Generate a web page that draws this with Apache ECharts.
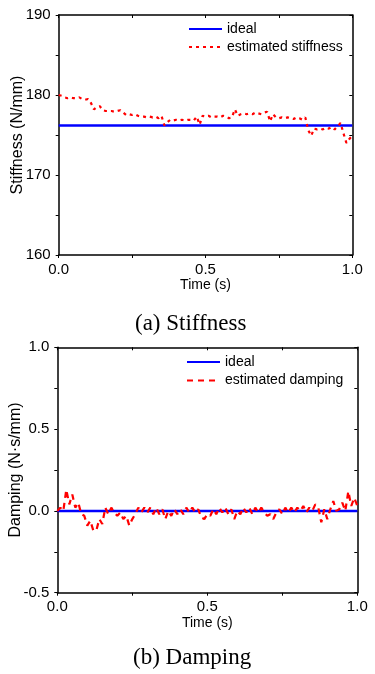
<!DOCTYPE html>
<html>
<head>
<meta charset="utf-8">
<script src="https://cdn.jsdelivr.net/npm/echarts@6/dist/echarts.min.js"></script>
<style>
  html, body { margin: 0; padding: 0; background: #fff; }
  #chart { width: 375px; height: 674px; }
</style>
</head>
<body>
<div id="chart"></div>
<script>
// sample times (s), shared by both panels
const time = [
  0.00, 0.01, 0.02, 0.03, 0.04, 0.05, 0.06, 0.07, 0.08, 0.09,
  0.10, 0.11, 0.12, 0.13, 0.14, 0.15, 0.16, 0.17, 0.18, 0.19,
  0.20, 0.21, 0.22, 0.23, 0.24, 0.25, 0.26, 0.27, 0.28, 0.29,
  0.30, 0.31, 0.32, 0.33, 0.34, 0.35, 0.36, 0.37, 0.38, 0.39,
  0.40, 0.41, 0.42, 0.43, 0.44, 0.45, 0.46, 0.47, 0.48, 0.49,
  0.50, 0.51, 0.52, 0.53, 0.54, 0.55, 0.56, 0.57, 0.58, 0.59,
  0.60, 0.61, 0.62, 0.63, 0.64, 0.65, 0.66, 0.67, 0.68, 0.69,
  0.70, 0.71, 0.72, 0.73, 0.74, 0.75, 0.76, 0.77, 0.78, 0.79,
  0.80, 0.81, 0.82, 0.83, 0.84, 0.85, 0.86, 0.87, 0.88, 0.89,
  0.90, 0.91, 0.92, 0.93, 0.94, 0.95, 0.96, 0.97, 0.98, 0.99,
  1.00
];

// (a) stiffness, N/mm
const idealStiffness = 176.2;
const estStiffness = [
  180.0, 179.9, 179.7, 179.6, 179.7, 179.6, 179.6, 179.7, 179.5, 179.4,
  179.5, 179.0, 178.2, 178.5, 178.6, 178.1, 178.0, 178.0, 178.0, 177.9,
  178.0, 178.1, 177.8, 177.5, 177.6, 177.5, 177.6, 177.4, 177.3, 177.3,
  177.2, 177.3, 177.2, 177.3, 177.1, 177.4, 176.2, 176.6, 176.9, 176.8,
  176.9, 176.8, 176.9, 176.8, 176.9, 176.9, 176.8, 177.3, 176.3, 177.4,
  177.3, 177.4, 177.2, 177.3, 177.3, 177.2, 177.4, 177.3, 177.1, 177.2,
  178.2, 177.4, 177.6, 177.7, 177.6, 177.7, 177.6, 177.8, 177.7, 177.6,
  177.8, 177.9, 176.7, 177.6, 177.2, 177.1, 177.2, 177.1, 177.2, 177.1,
  177.0, 177.2, 177.1, 176.9, 177.2, 175.6, 174.9, 175.8, 175.7, 175.8,
  175.7, 175.9, 175.8, 176.0, 175.7, 176.1, 176.5, 175.2, 174.0, 174.5,
  174.9
];

// (b) damping, N·s/mm
const idealDamping = 0;
const estDamping = [
  0.00, 0.02, 0.00, 0.13, 0.04, 0.10, 0.02, 0.05, -0.02, -0.03,
  -0.09, -0.06, -0.12, -0.12, -0.05, -0.08, 0.02, -0.02, 0.02, -0.01,
  -0.03, -0.01, -0.05, -0.03, -0.09, -0.05, -0.02, 0.02, -0.01, 0.02,
  -0.01, 0.02, -0.02, 0.02, -0.02, 0.01, -0.05, 0.00, -0.03, 0.01,
  -0.02, 0.01, -0.02, 0.02, -0.01, 0.02, -0.01, 0.01, -0.04, -0.05,
  -0.02, -0.03, 0.01, -0.02, 0.02, -0.01, 0.02, -0.02, 0.01, -0.05,
  0.00, -0.02, 0.02, -0.01, 0.02, -0.02, 0.02, -0.01, 0.02, -0.01,
  -0.03, -0.02, -0.05, -0.01, 0.01, -0.02, 0.02, -0.01, 0.02, -0.01,
  0.02, 0.00, 0.03, -0.01, 0.02, 0.00, 0.04, 0.02, -0.07, 0.01,
  -0.05, 0.01, 0.06, 0.00, 0.01, 0.05, 0.00, 0.12, 0.03, 0.08,
  0.03
];

const stiffTicks = { min: 160, max: 190, interval: 10 };
const dampTicks = { min: -0.5, max: 1.0, interval: 0.5 };
const timeTicks = { min: 0, max: 1, interval: 0.5 };

const SANS = 'Liberation Sans, Arial, sans-serif';
const SERIF = 'Liberation Serif, Times New Roman, serif';
const BLUE = '#0000ff';
const RED = '#ff0000';

const chart = echarts.init(document.getElementById('chart'), null, { renderer: 'canvas' });

const axisLine = { show: true, onZero: false, lineStyle: { color: '#000', width: 1.5 } };
const tickStyle = { color: '#000', width: 1 };

function mainX(gridIndex, name, nameGap) {
  return {
    type: 'value', gridIndex, ...timeTicks,
    name, nameLocation: 'middle', nameGap, nameMoveOverlap: false,
    nameTextStyle: { fontFamily: SANS, fontSize: 14, color: '#000' },
    axisLine,
    axisTick: { show: true, inside: false, length: 3, lineStyle: tickStyle },
    minorTick: { show: true, splitNumber: 2, length: 3, lineStyle: tickStyle },
    splitLine: { show: false },
    axisLabel: { fontFamily: SANS, fontSize: 15, color: '#000', margin: 7,
      formatter: (v) => v.toFixed(1) }
  };
}
function mirrorX(gridIndex) {
  return {
    type: 'value', gridIndex, position: 'top', ...timeTicks,
    axisLine,
    axisTick: { show: true, inside: true, length: 3, lineStyle: tickStyle },
    minorTick: { show: true, splitNumber: 2, length: 3, lineStyle: tickStyle },
    splitLine: { show: false },
    axisLabel: { show: false }
  };
}
function mainY(gridIndex, ticks, name, nameGap, digits) {
  return {
    type: 'value', gridIndex, ...ticks,
    name, nameLocation: 'middle', nameGap, nameMoveOverlap: false,
    nameTextStyle: { fontFamily: SANS, fontSize: 16, color: '#000' },
    axisLine,
    axisTick: { show: true, inside: false, length: 3, lineStyle: tickStyle },
    minorTick: { show: true, splitNumber: 2, length: 3, lineStyle: tickStyle },
    splitLine: { show: false },
    axisLabel: { fontFamily: SANS, fontSize: 15, color: '#000', margin: 8,
      formatter: (v) => v.toFixed(digits) }
  };
}
function mirrorY(gridIndex, ticks) {
  return {
    type: 'value', gridIndex, position: 'right', ...ticks,
    axisLine,
    axisTick: { show: true, inside: true, length: 3, lineStyle: tickStyle },
    minorTick: { show: true, splitNumber: 2, length: 3, lineStyle: tickStyle },
    splitLine: { show: false },
    axisLabel: { show: false }
  };
}

const legendBase = {
  orient: 'vertical', itemWidth: 33, itemHeight: 14, itemGap: 4,
  itemStyle: { opacity: 0 },
  textStyle: { fontFamily: SANS, fontSize: 14, color: '#000' },
  padding: 0, selectedMode: false
};

chart.setOption({
  animation: false,
  backgroundColor: '#fff',
  grid: [
    { left: 58.7, right: 22.7, top: 15, height: 240, outerBoundsMode: 'none' },
    { left: 57.3, right: 17.7, top: 347.3, height: 245.4, outerBoundsMode: 'none' }
  ],
  xAxis: [
    mainX(0, 'Time (s)', 23), mirrorX(0),
    mainX(1, 'Time (s)', 23), mirrorX(1)
  ],
  yAxis: [
    mainY(0, stiffTicks, 'Stiffness (N/mm)', 33, 0), mirrorY(0, stiffTicks),
    mainY(1, dampTicks, 'Damping (N\u00b7s/mm)', 34, 1), mirrorY(1, dampTicks)
  ],
  legend: [
    { ...legendBase, left: 188, top: 22, data: ['ideal', 'estimated stiffness'] },
    { ...legendBase, left: 186, top: 355, itemGap: 4.4, data: ['ideal', 'estimated damping'] }
  ],
  graphic: [
    { type: 'text', left: 135, top: 312,
      style: { text: '(a) Stiffness', font: '23px ' + SERIF, fill: '#000' } },
    { type: 'text', left: 133, top: 646,
      style: { text: '(b) Damping', font: '23px ' + SERIF, fill: '#000' } }
  ],
  series: [
    {
      name: 'ideal', type: 'line', xAxisIndex: 0, yAxisIndex: 0,
      data: [[timeTicks.min, idealStiffness], [timeTicks.max, idealStiffness]],
      symbol: 'none', lineStyle: { color: BLUE, width: 2.5 }, itemStyle: { color: BLUE }, z: 3
    },
    {
      name: 'estimated stiffness', type: 'line', xAxisIndex: 0, yAxisIndex: 0,
      data: time.map((t, i) => [t, estStiffness[i]]),
      symbol: 'none', lineStyle: { color: RED, width: 2.2, type: [3, 4] }, itemStyle: { color: RED }, z: 4
    },
    {
      name: 'ideal', type: 'line', xAxisIndex: 2, yAxisIndex: 2,
      data: [[timeTicks.min, idealDamping], [timeTicks.max, idealDamping]],
      symbol: 'none', lineStyle: { color: BLUE, width: 2.5 }, itemStyle: { color: BLUE }, z: 3
    },
    {
      name: 'estimated damping', type: 'line', xAxisIndex: 2, yAxisIndex: 2,
      data: time.map((t, i) => [t, estDamping[i]]),
      symbol: 'none', lineStyle: { color: RED, width: 2.2, type: [6, 5] }, itemStyle: { color: RED }, z: 4
    }
  ]
});
</script>
</body>
</html>
